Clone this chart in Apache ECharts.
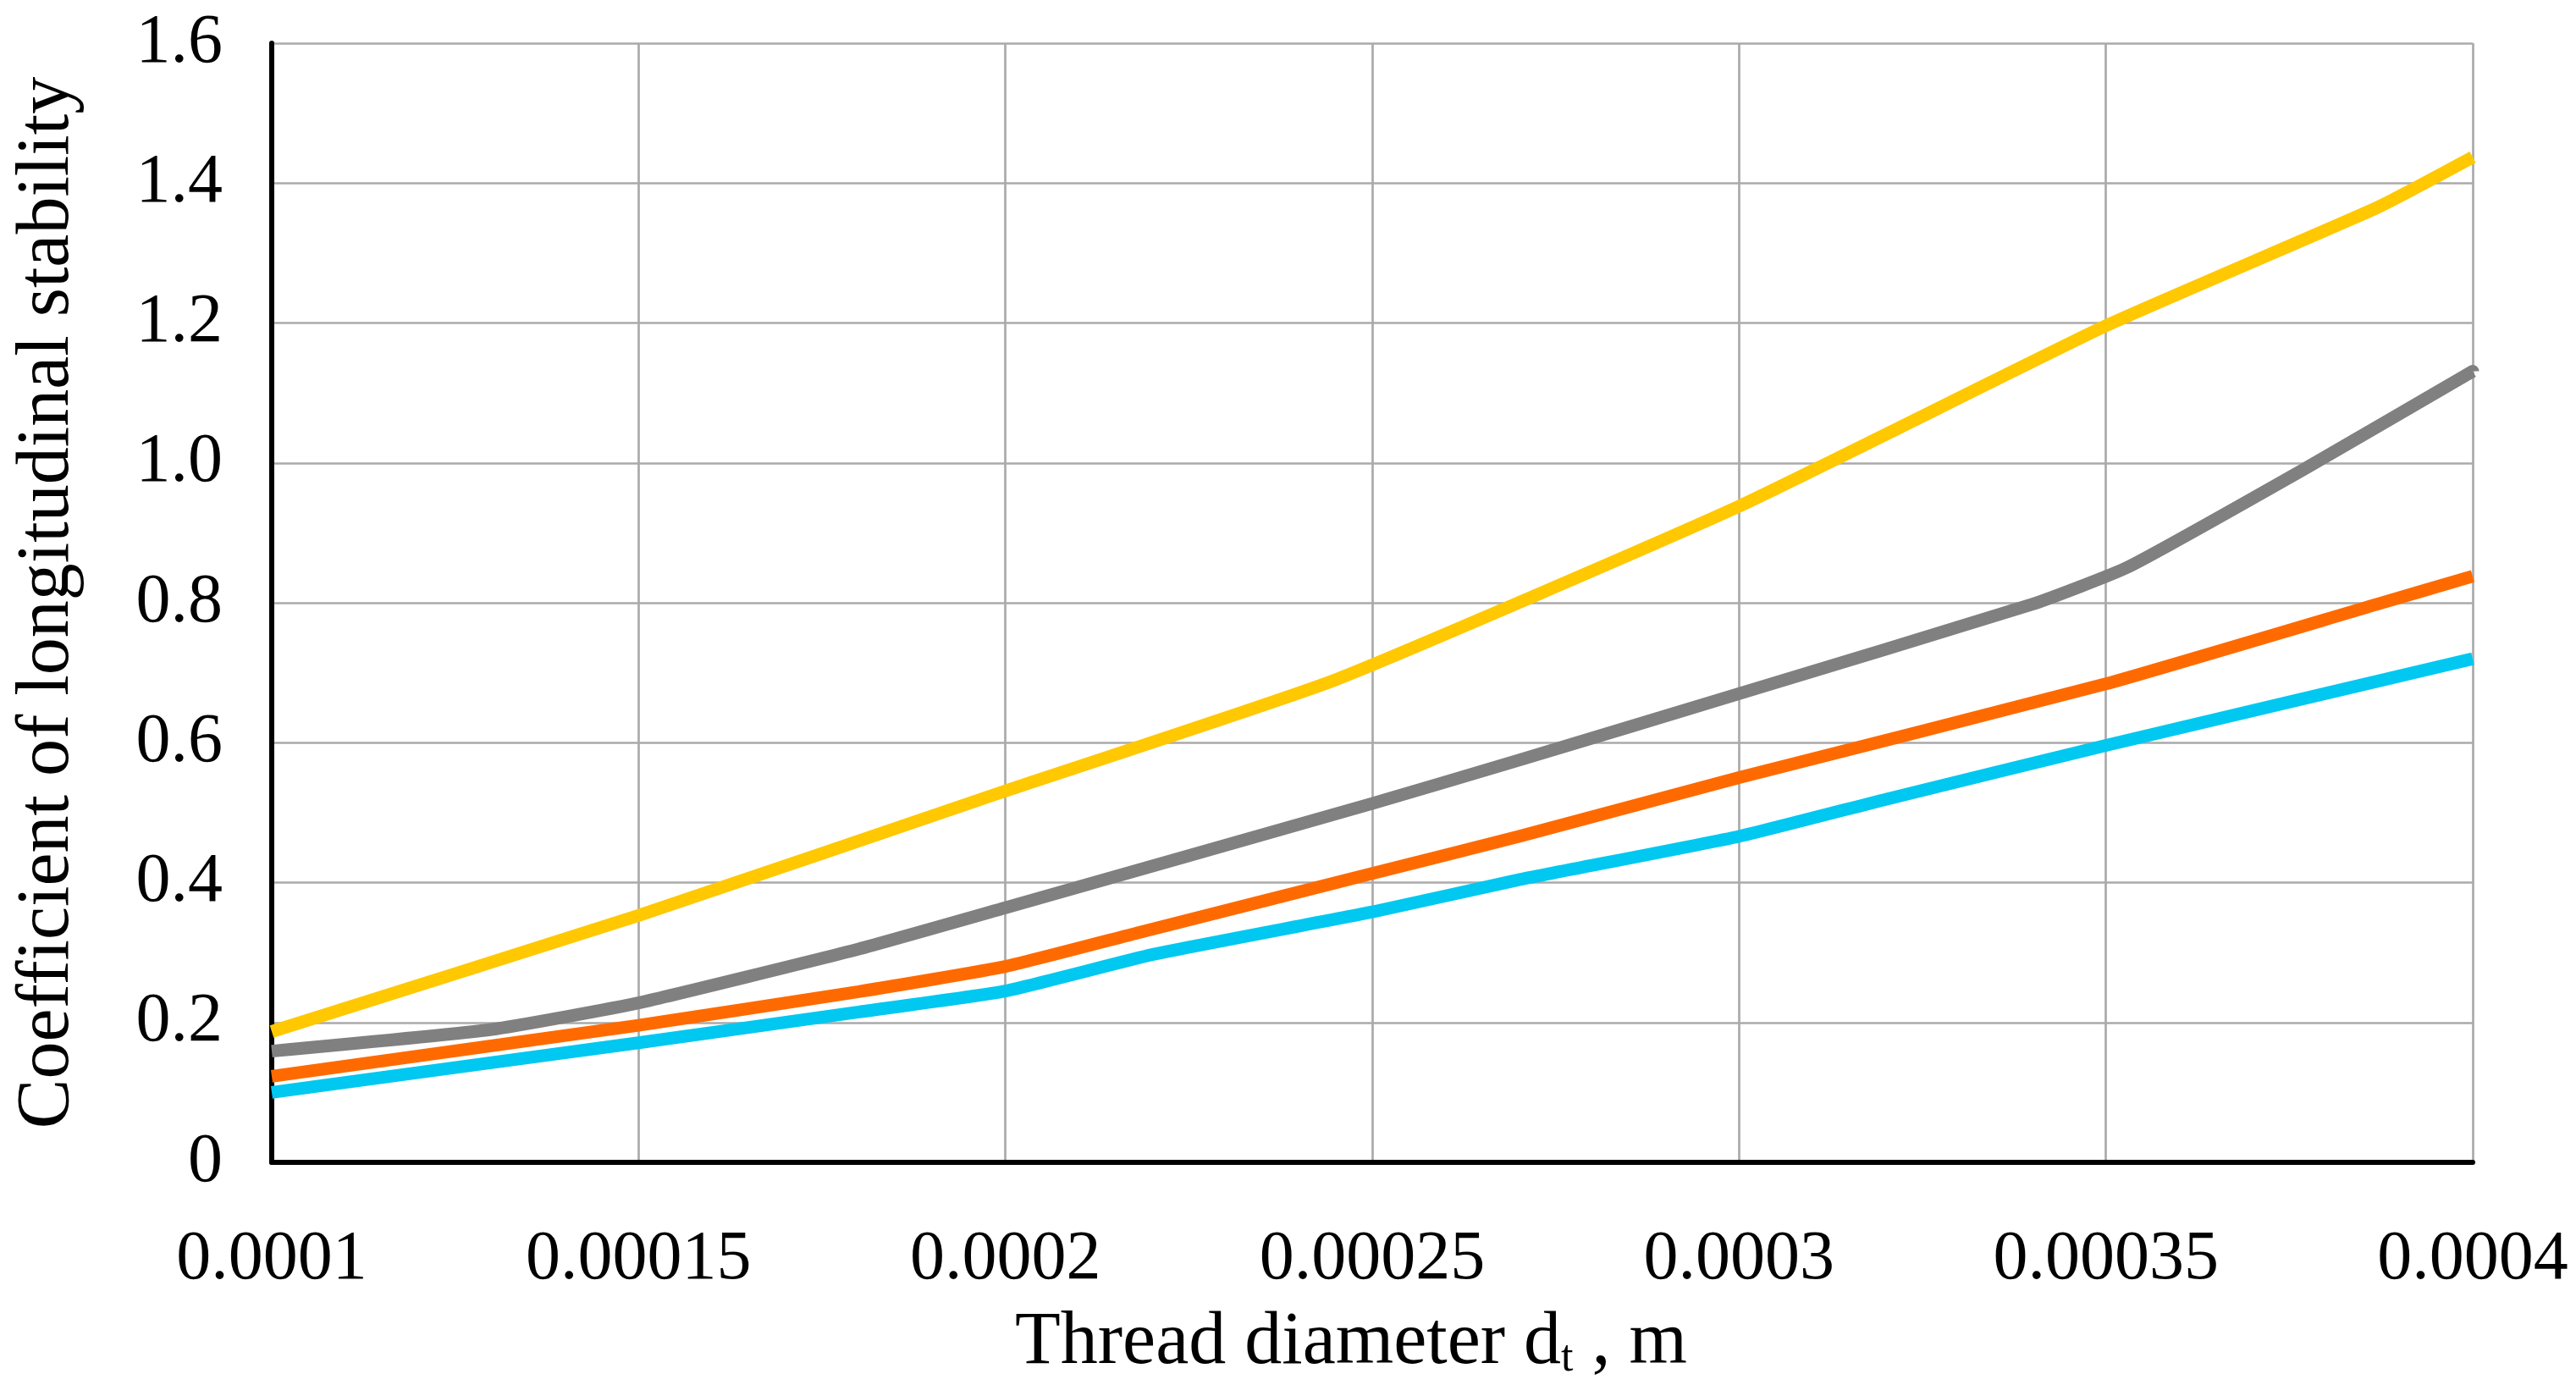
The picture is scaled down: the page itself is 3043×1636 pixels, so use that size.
<!DOCTYPE html>
<html>
<head>
<meta charset="utf-8">
<script src="https://cdn.jsdelivr.net/npm/echarts@6/dist/echarts.min.js"></script>
<style>
html,body{margin:0;padding:0;background:#fff;}
#chart{width:3043px;height:1636px;}
</style>
</head>
<body>
<div id="chart"></div>
<script>
// Thread diameter values (m) and coefficient of longitudinal stability per series
var xYellow = [0.0001, 0.00015, 0.0002, 0.000245, 0.0003, 0.00035, 0.000387, 0.0004];
var yYellow = [0.187, 0.353, 0.531, 0.69, 0.938, 1.196, 1.365, 1.437];

var xGray = [0.0001, 0.00013, 0.00015, 0.00018, 0.0002, 0.00025, 0.00027, 0.0003, 0.00034, 0.000353, 0.000377, 0.0004];
var yGray = [0.159, 0.19, 0.228, 0.305, 0.364, 0.513, 0.575, 0.670, 0.798, 0.851, 0.991, 1.131];

var xOrange = [0.0001, 0.00015, 0.00018, 0.0002, 0.000218, 0.00025, 0.00027, 0.0003, 0.00035, 0.000387, 0.0004];
var yOrange = [0.123, 0.196, 0.244, 0.280, 0.328, 0.413, 0.466, 0.55, 0.684, 0.798, 0.838];

var xCyan = [0.0001, 0.00015, 0.00018, 0.0002, 0.00022, 0.00025, 0.00027, 0.0003, 0.00032, 0.00035, 0.0004];
var yCyan = [0.10, 0.171, 0.215, 0.245, 0.297, 0.358, 0.404, 0.466, 0.519, 0.596, 0.72];

var xTicks = [0.0001, 0.00015, 0.0002, 0.00025, 0.0003, 0.00035, 0.0004];
var xTickLabels = ['0.0001', '0.00015', '0.0002', '0.00025', '0.0003', '0.00035', '0.0004'];
var yTicks = [0, 0.2, 0.4, 0.6, 0.8, 1.0, 1.2, 1.4, 1.6];
var yTickLabels = ['0', '0.2', '0.4', '0.6', '0.8', '1.0', '1.2', '1.4', '1.6'];

function pairs(xs, ys) { return xs.map(function (x, i) { return [x, ys[i]]; }); }
function lookup(ticks, labels, v) {
  for (var i = 0; i < ticks.length; i++) { if (Math.abs(ticks[i] - v) < 1e-9) return labels[i]; }
  return '';
}

var FONT = '"Liberation Serif", "DejaVu Serif", serif';
var chart = echarts.init(document.getElementById('chart'), null, {renderer: 'canvas'});
var lw = 15;
chart.setOption({
  backgroundColor: '#ffffff',
  animation: false,
  grid: {left: 321, right: 122, top: 51, bottom: 251, containLabel: false},
  xAxis: {
    type: 'value', min: 0.0001, max: 0.0004, interval: 0.00005,
    name: '{a|Thread diameter d}{s|t}{a| , m}',
    nameLocation: 'middle', nameGap: 170,
    nameTextStyle: {
      padding: [0, 50, 0, 0],
      rich: {
        a: {fontFamily: FONT, fontSize: 88, lineHeight: 88, color: '#000'},
        s: {fontFamily: FONT, fontSize: 52, lineHeight: 40, color: '#000', verticalAlign: 'bottom'}
      }
    },
    axisLine: {show: true, onZero: false, lineStyle: {color: '#000', width: 6}},
    axisTick: {show: false},
    axisLabel: {
      margin: 74, fontFamily: FONT, fontSize: 82, color: '#000',
      formatter: function (v) { return lookup(xTicks, xTickLabels, v); }
    },
    splitLine: {show: true, lineStyle: {color: '#aaaaaa', width: 2.7}}
  },
  yAxis: {
    type: 'value', min: 0, max: 1.6, interval: 0.2,
    name: 'Coefficient of longitudinal stability',
    nameLocation: 'middle', nameGap: 220,
    nameTextStyle: {fontFamily: FONT, fontSize: 88, color: '#000'},
    axisLine: {show: true, lineStyle: {color: '#000', width: 6}},
    axisTick: {show: false},
    axisLabel: {
      margin: 58, fontFamily: FONT, fontSize: 82, color: '#000',
      formatter: function (v) { return lookup(yTicks, yTickLabels, v); }
    },
    splitLine: {show: true, lineStyle: {color: '#aaaaaa', width: 2.7}}
  },
  series: [
    {type: 'line', data: pairs(xCyan, yCyan), showSymbol: false, smooth: 0.15,
     lineStyle: {color: '#00c8f0', width: lw}, z: 3},
    {type: 'line', data: pairs(xOrange, yOrange), showSymbol: false, smooth: 0.15,
     lineStyle: {color: '#ff6a00', width: lw}, z: 3},
    {type: 'line', data: pairs(xGray, yGray), showSymbol: false, smooth: 0.15,
     lineStyle: {color: '#808080', width: lw}, z: 3},
    {type: 'line', data: pairs(xYellow, yYellow), showSymbol: false, smooth: 0.15,
     lineStyle: {color: '#ffc800', width: lw}, z: 3}
  ]
});
</script>
</body>
</html>
